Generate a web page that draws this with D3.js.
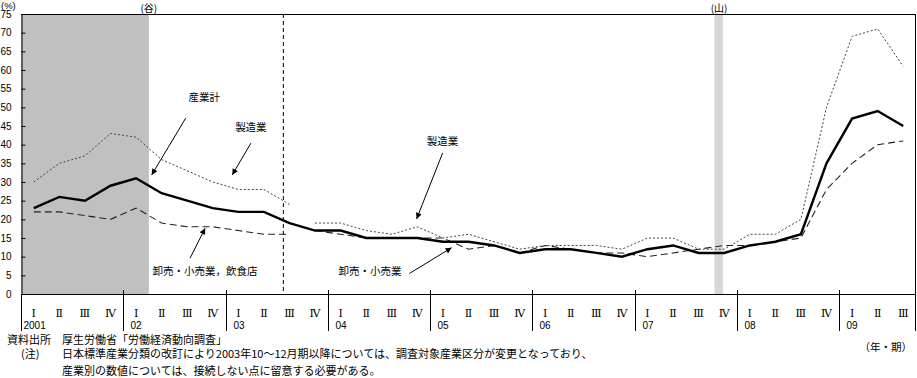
<!DOCTYPE html>
<html>
<head>
<meta charset="utf-8">
<script src="https://cdn.jsdelivr.net/npm/d3@7"></script>
<style>
  body { margin: 0; background: #fff; }
  text { font-family: "Noto Sans CJK JP", sans-serif; fill: #000; }
</style>
</head>
<body>
<div id="chart"></div>
<script>
// 2001 I – 2009 III, quarterly (%)
const years = ['2001', '02', '03', '04', '05', '06', '07', '08', '09']
const quarterLabels = ['Ⅰ', 'Ⅱ', 'Ⅲ', 'Ⅳ']
const total = [23, 26, 25, 29, 31, 27, 25, 23, 22, 22, 19, 17, 17, 15, 15, 15, 14, 14, 13, 11, 12, 12, 11, 10, 12, 13, 11, 11, 13, 14, 16, 35, 47, 49, 45]
const manufacturing = [30, 35, 37, 43, 42, 36, 33, 30, 28, 28, 24, 19, 19, 17, 16, 18, 15, 16, 14, 12, 13, 13, 13, 12, 15, 15, 12, 12, 16, 16, 20, 50, 69, 71, 61]
const wholesale = [22, 22, 21, 20, 23, 19, 18, 18, 17, 16, 16, 17, 16, 15, 15, 15, 15, 12, 13, 11, 13, 12, 11, 11, 10, 11, 12, 13, 13, 14, 15, 28, 35, 40, 41]
const breakAfter = 10 // industry classification changed from 2003 IV
const classChangeAt = 9.76
const yTicks = d3.range(0, 80, 5)

const shades = [
  { from: -0.5, to: 4.5, fill: '#c0c0c0', label: '(谷)', labelAt: 4.5 },
  { from: 26.62, to: 26.95, fill: '#d8d8d8', label: '(山)', labelAt: 26.8 }
]

const annotations = [
  { text: '産業計', tx: 6.67, ty: 52.7, x1: 5.94, y1: 47.1, x2: 4.61, y2: 31.9 },
  { text: '製造業', tx: 8.49, ty: 44.7, x1: 8.49, y1: 40.4, x2: 7.76, y2: 31.9 },
  { text: '卸売・小売業，飲食店', tx: 6.70, ty: 6.2, x1: 6.11, y1: 9.6, x2: 6.70, y2: 17.6 },
  { text: '製造業', tx: 15.98, ty: 41.0, x1: 15.99, y1: 37.8, x2: 14.97, y2: 20.1 },
  { text: '卸売・小売業', tx: 13.15, ty: 6.2, x1: 14.69, y1: 5.5, x2: 16.34, y2: 12.4 }
]

const W = 917
const H = 378
const plot = { left: 21, right: 916, top: 14, bottom: 294, sepBottom: 331 }
const latin = '"Liberation Sans", Arial, sans-serif'

const svg = d3.select('#chart')
  .append('svg')
  .attr('width', W)
  .attr('height', H)

const x = d3.scaleLinear()
  .domain([-0.5, total.length - 0.5])
  .range([plot.left, plot.right])

const y = d3.scaleLinear()
  .domain([0, 75])
  .range([plot.bottom, plot.top])

// shaded periods
shades.forEach(s => {
  svg.append('rect')
    .attr('x', x(s.from))
    .attr('y', plot.top)
    .attr('width', x(s.to) - x(s.from))
    .attr('height', plot.bottom - plot.top)
    .attr('fill', s.fill)
  svg.append('text')
    .attr('x', x(s.labelAt))
    .attr('y', 12)
    .attr('text-anchor', 'middle')
    .style('font-size', '10px')
    .text(s.label)
})

// frame
svg.append('line')
  .attr('x1', plot.left).attr('x2', plot.right)
  .attr('y1', plot.top + 0.5).attr('y2', plot.top + 0.5)
  .attr('stroke', '#000')
svg.append('line')
  .attr('x1', plot.right - 0.5).attr('x2', plot.right - 0.5)
  .attr('y1', plot.top).attr('y2', plot.sepBottom)
  .attr('stroke', '#000')

// y axis
const yAxis = svg.append('g')
  .attr('transform', `translate(${plot.left + 0.5},0)`)
  .call(d3.axisLeft(y).tickValues(yTicks).tickSize(-4).tickSizeOuter(0).tickPadding(10))
yAxis.select('.domain').attr('stroke', '#000')
yAxis.selectAll('text')
  .style('font-family', latin)
  .style('font-size', '10px')
svg.append('line')
  .attr('x1', plot.left + 0.5).attr('x2', plot.left + 0.5)
  .attr('y1', plot.bottom).attr('y2', plot.sepBottom)
  .attr('stroke', '#000')
svg.append('text')
  .attr('x', 1)
  .attr('y', 9)
  .style('font-family', latin)
  .style('font-size', '9.5px')
  .text('(%)')

// x axis line
svg.append('line')
  .attr('x1', plot.left).attr('x2', plot.right)
  .attr('y1', plot.bottom + 0.5).attr('y2', plot.bottom + 0.5)
  .attr('stroke', '#000')

// year separators and labels
years.forEach((yr, i) => {
  const xs = Math.round(x(i * 4 - 0.5)) + 0.5
  if (i > 0) {
    svg.append('line')
      .attr('x1', xs).attr('x2', xs)
      .attr('y1', plot.bottom - 4).attr('y2', plot.sepBottom)
      .attr('stroke', '#000')
  }
  svg.append('text')
    .attr('x', xs + (yr.length > 2 ? 2 : 7))
    .attr('y', 329)
    .style('font-family', latin)
    .style('font-size', '10px')
    .text(yr)
})

// quarter labels
total.forEach((d, i) => {
  svg.append('text')
    .attr('x', x(i))
    .attr('y', 317)
    .attr('text-anchor', 'middle')
    .style('font-family', '"DejaVu Serif", serif')
    .style('font-size', '11px')
    .text(quarterLabels[i % 4])
})

// classification change line
svg.append('line')
  .attr('x1', x(classChangeAt)).attr('x2', x(classChangeAt))
  .attr('y1', plot.top).attr('y2', plot.bottom - 3)
  .attr('stroke', '#000')
  .attr('stroke-dasharray', '4,3')

// series
const line = d3.line()
  .defined(d => d != null)
  .x((d, i) => x(i))
  .y(d => y(d))

const seg1 = arr => arr.map((v, i) => i <= breakAfter ? v : null)
const seg2 = arr => arr.map((v, i) => i > breakAfter ? v : null)

const series = [
  { values: seg1(wholesale), stroke: '#222', width: 1.1, dash: '7,4' },
  { values: seg2(wholesale), stroke: '#222', width: 1.1, dash: '7,4' },
  { values: seg1(manufacturing), stroke: '#444', width: 1, dash: '2,2' },
  { values: seg2(manufacturing), stroke: '#444', width: 1, dash: '2,2' },
  { values: total, stroke: '#000', width: 2.4, dash: null }
]

series.forEach(s => {
  svg.append('path')
    .datum(s.values)
    .attr('fill', 'none')
    .attr('stroke', s.stroke)
    .attr('stroke-width', s.width)
    .attr('stroke-dasharray', s.dash)
    .attr('d', line)
})

// annotations
svg.append('defs').append('marker')
  .attr('id', 'arrow')
  .attr('viewBox', '0 0 10 10')
  .attr('refX', 10)
  .attr('refY', 5)
  .attr('markerWidth', 8)
  .attr('markerHeight', 6)
  .attr('markerUnits', 'userSpaceOnUse')
  .attr('orient', 'auto')
  .append('path')
  .attr('d', 'M0,0L10,5L0,10Z')
  .attr('fill', '#000')

annotations.forEach(a => {
  svg.append('line')
    .attr('x1', x(a.x1)).attr('y1', y(a.y1))
    .attr('x2', x(a.x2)).attr('y2', y(a.y2))
    .attr('stroke', '#000')
    .attr('stroke-width', 1)
    .attr('marker-end', 'url(#arrow)')
  svg.append('text')
    .attr('x', x(a.tx))
    .attr('y', y(a.ty))
    .attr('dy', '0.35em')
    .attr('text-anchor', 'middle')
    .style('font-size', '10.5px')
    .text(a.text)
})

// source and notes
const notes = [
  { text: '資料出所　厚生労働省「労働経済動向調査」', x: 7, y: 340 },
  { text: '(注)', x: 21, y: 354 },
  { text: '日本標準産業分類の改訂により2003年10〜12月期以降については、調査対象産業区分が変更となっており、', x: 62, y: 354 },
  { text: '産業別の数値については、接続しない点に留意する必要がある。', x: 62, y: 371 }
]
notes.forEach(n => {
  svg.append('text')
    .attr('x', n.x)
    .attr('y', n.y)
    .attr('dy', '0.35em')
    .style('font-size', '11px')
    .text(n.text)
})
svg.append('text')
  .attr('x', 912)
  .attr('y', 347)
  .attr('dy', '0.35em')
  .attr('text-anchor', 'end')
  .style('font-size', '10.5px')
  .text('（年・期）')
</script>
</body>
</html>
